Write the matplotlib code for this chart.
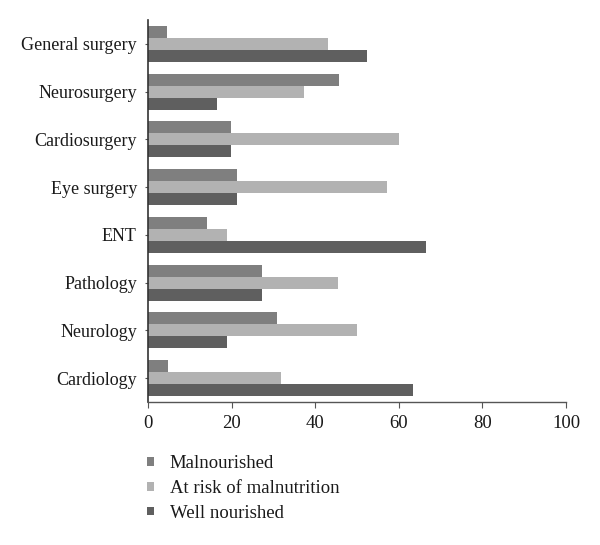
import matplotlib
matplotlib.use("Agg")
import matplotlib.pyplot as plt
import numpy as np

categories = ["General surgery", "Neurosurgery", "Cardiosurgery", "Eye surgery",
              "ENT", "Pathology", "Neurology", "Cardiology"]
malnourished = [4.5, 45.8, 19.9, 21.4, 14.2, 27.2, 30.9, 4.9]
at_risk = [43.1, 37.4, 60.0, 57.1, 19.0, 45.5, 50.0, 31.7]
well_nourished = [52.3, 16.6, 19.9, 21.4, 66.5, 27.2, 19.0, 63.3]
series_names = ["Malnourished", "At risk of malnutrition", "Well nourished"]
colors = ["#7f7f7f", "#b2b2b2", "#5f5f5f"]
xticks = [0, 20, 40, 60, 80, 100]

plt.rcParams['font.family'] = ['Liberation Serif', 'DejaVu Serif']

fig = plt.figure(figsize=(6.0, 5.45), dpi=100)
ax = fig.add_axes([148/600, 1-402/545, (566-148)/600, (402-20)/545])

n = len(categories)
y = np.arange(n)[::-1].astype(float)
h = 0.25
data = [malnourished, at_risk, well_nourished]
offsets = [h, 0, -h]
handles = []
for vals, off, c, name in zip(data, offsets, colors, series_names):
    b = ax.barh(y + off, vals, height=h, color=c, edgecolor='none', label=name)
    handles.append(b)

ax.set_xlim(0, 100)
ax.set_ylim(-0.5, n - 0.5)
ax.set_xticks(xticks)
ax.set_xticklabels([str(t) for t in xticks], fontsize=13.5)
ax.set_yticks(y)
ax.set_yticklabels(categories, fontsize=13)
for s in ['top', 'right']:
    ax.spines[s].set_visible(False)
ax.spines['left'].set_color('#333333')
ax.spines['bottom'].set_color('#555555')
ax.spines['left'].set_linewidth(1.2)
ax.spines['bottom'].set_linewidth(1.0)
ax.tick_params(axis='x', direction='out', length=4, color='#555555', pad=5, labelcolor='#1a1a1a')
ax.tick_params(axis='y', direction='out', length=2, color='#555555', pad=6, labelcolor='#1a1a1a')

leg = fig.legend(handles=handles, labels=series_names, loc='upper left',
                 bbox_to_anchor=(147/600, 1-455/545), frameon=False, fontsize=13.5,
                 handlelength=0.35, handleheight=0.35, handletextpad=0.85,
                 labelspacing=0.42, borderaxespad=0, borderpad=0)
for t in leg.get_texts():
    t.set_color('#1a1a1a')

fig.savefig("out.png", dpi=100)
